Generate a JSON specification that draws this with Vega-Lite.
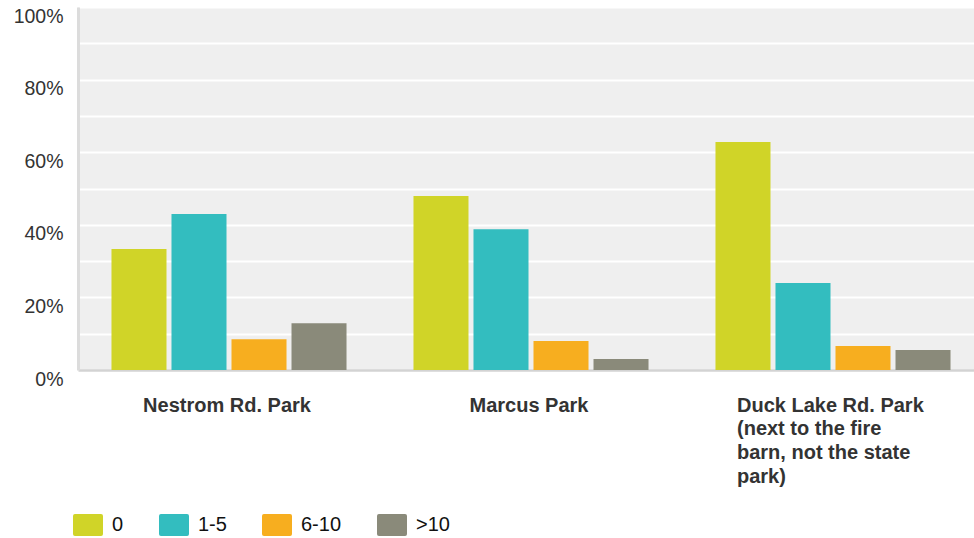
{
  "$schema": "https://vega.github.io/schema/vega-lite/v6.json",
  "width": 896,
  "height": 363,
  "autosize": {"type": "none"},
  "padding": {"left": 78, "top": 7, "right": 0, "bottom": 168},
  "background": "#ffffff",
  "config": {
    "view": {"fill": "#efefef", "stroke": null},
    "font": "Liberation Sans"
  },
  "data": {
    "values": [
      {"park": "Nestrom Rd. Park", "visits": "0", "share": 0.333},
      {"park": "Nestrom Rd. Park", "visits": "1-5", "share": 0.430},
      {"park": "Nestrom Rd. Park", "visits": "6-10", "share": 0.085},
      {"park": "Nestrom Rd. Park", "visits": ">10", "share": 0.129},
      {"park": "Marcus Park", "visits": "0", "share": 0.479},
      {"park": "Marcus Park", "visits": "1-5", "share": 0.388},
      {"park": "Marcus Park", "visits": "6-10", "share": 0.080},
      {"park": "Marcus Park", "visits": ">10", "share": 0.030},
      {"park": "Duck Lake Rd. Park (next to the fire barn, not the state park)", "visits": "0", "share": 0.628},
      {"park": "Duck Lake Rd. Park (next to the fire barn, not the state park)", "visits": "1-5", "share": 0.240},
      {"park": "Duck Lake Rd. Park (next to the fire barn, not the state park)", "visits": "6-10", "share": 0.066},
      {"park": "Duck Lake Rd. Park (next to the fire barn, not the state park)", "visits": ">10", "share": 0.055}
    ]
  },
  "mark": {"type": "bar"},
  "encoding": {
    "x": {
      "field": "park",
      "type": "nominal",
      "sort": null,
      "scale": {"paddingInner": 0, "paddingOuter": 0, "range": [0, 906]},
      "axis": {
        "title": null,
        "labelAngle": 0,
        "ticks": false,
        "domainColor": "#d3d3d3",
        "domainWidth": 2.5,
        "labelFont": "Liberation Sans",
        "labelFontSize": 20,
        "labelFontWeight": "bold",
        "labelColor": "#333333",
        "labelPadding": 25,
        "labelBaseline": "top",
        "labelLineHeight": 23.7,
        "labelLimit": 0,
        "labelAlign": {"condition": {"test": "indexof(datum.value, 'Duck') == 0", "value": "left"}, "value": "center"},
        "labelOffset": {"condition": {"test": "indexof(datum.value, 'Duck') == 0", "value": -96}, "value": -2},
        "labelExpr": "indexof(datum.value, 'Duck') == 0 ? ['Duck Lake Rd. Park', '(next to the fire', 'barn, not the state', 'park)'] : datum.value"
      }
    },
    "xOffset": {
      "field": "visits",
      "type": "nominal",
      "sort": ["0", "1-5", "6-10", ">10"],
      "scale": {"paddingInner": 0.0833, "paddingOuter": 0.558}
    },
    "y": {
      "field": "share",
      "type": "quantitative",
      "scale": {"domain": [0, 1], "nice": false},
      "axis": {
        "title": null,
        "values": [0, 0.1, 0.2, 0.3, 0.4, 0.5, 0.6, 0.7, 0.8, 0.9, 1],
        "labelExpr": "round(datum.value * 100) % 20 == 0 ? format(datum.value, '.0%') : ''",
        "ticks": false,
        "grid": true,
        "gridColor": "#ffffff",
        "gridWidth": 2,
        "domainColor": "#dcdcdc",
        "domainWidth": 3,
        "labelFont": "Liberation Sans",
        "labelFontSize": 19.5,
        "labelColor": "#333333",
        "labelPadding": 15,
        "labelBaseline": "middle",
        "labelOffset": 9
      }
    },
    "color": {
      "field": "visits",
      "type": "nominal",
      "sort": ["0", "1-5", "6-10", ">10"],
      "scale": {"domain": ["0", "1-5", "6-10", ">10"], "range": ["#d0d428", "#33bdbf", "#f7ae1f", "#8a8a7a"]},
      "legend": {
        "title": null,
        "orient": "none",
        "direction": "horizontal",
        "columns": 4,
        "legendX": -5,
        "legendY": 503,
        "symbolType": "M-0.87,-0.733H0.87Q1,-0.733 1,-0.6V0.6Q1,0.733 0.87,0.733H-0.87Q-1,0.733 -1,0.6V-0.6Q-1,-0.733 -0.87,-0.733Z",
        "symbolSize": 900,
        "symbolStrokeWidth": 0,
        "symbolOpacity": 1,
        "labelFont": "Liberation Sans",
        "labelFontSize": 20,
        "labelColor": "#111111",
        "labelOffset": 9,
        "columnPadding": 35,
        "padding": 0
      }
    }
  }
}
